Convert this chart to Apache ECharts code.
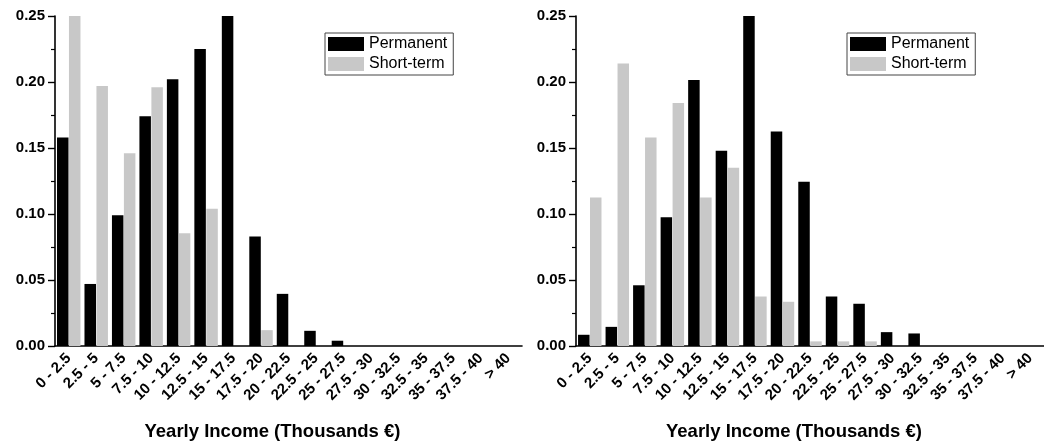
<!DOCTYPE html>
<html>
<head>
<meta charset="utf-8">
<script src="https://cdn.jsdelivr.net/npm/echarts@6/dist/echarts.min.js"></script>
<style>
  html, body { margin: 0; padding: 0; background: #fff; }
  #chart { width: 1044px; height: 447px; }
</style>
</head>
<body>
<div id="chart"></div>
<script>
// income bins (thousands of euro)
let categories = ['0 - 2.5', '2.5 - 5', '5 - 7.5', '7.5 - 10', '10 - 12.5', '12.5 - 15',
  '15 - 17.5', '17.5 - 20', '20 - 22.5', '22.5 - 25', '25 - 27.5', '27.5 - 30',
  '30 - 32.5', '32.5 - 35', '35 - 37.5', '37.5 - 40', '> 40'];

// left panel
let leftPermanent = [0.158, 0.047, 0.099, 0.174, 0.202, 0.225, 0.25, 0.083, 0.0395, 0.0115, 0.004, 0, 0, 0, 0, 0, 0];
let leftShortTerm = [0.25, 0.197, 0.146, 0.196, 0.0855, 0.104, 0, 0.012, 0, 0, 0, 0, 0, 0, 0, 0, 0];

// right panel
let rightPermanent = [0.0085, 0.0145, 0.046, 0.0975, 0.2015, 0.148, 0.25, 0.1625, 0.1245, 0.0375, 0.032, 0.0105, 0.0095, 0, 0, 0, 0];
let rightShortTerm = [0.1125, 0.214, 0.158, 0.184, 0.1125, 0.135, 0.0375, 0.0335, 0.0035, 0.0035, 0.0035, 0, 0, 0, 0, 0, 0];

let yTicks = [0, 0.05, 0.1, 0.15, 0.2, 0.25];
let axisTitle = 'Yearly Income (Thousands €)';

let font = '"Liberation Sans", Arial, sans-serif';
let black = '#000000';
let grey = '#c8c8c8';

let myChart = echarts.init(document.getElementById('chart'));

function xAxisFor(idx){
    return {
        type: 'category',
        gridIndex: idx,
        data: categories,
        boundaryGap: true,
        axisLine: { lineStyle: { color: '#000', width: 1.6 } },
        axisTick: { alignWithLabel: true, length: 5, lineStyle: { color: '#000', width: 1.4 } },
        axisLabel: {
            interval: 0, rotate: 45, margin: 10,
            color: '#000', fontFamily: font, fontWeight: 'bold', fontSize: 15
        },
        name: axisTitle,
        nameLocation: 'middle',
        nameGap: 76,
        nameTextStyle: {
            color: '#000', fontFamily: font, fontWeight: 'bold', fontSize: 18.5,
            padding: [0, 32, 0, 0]
        }
    };
}

function yAxisFor(idx){
    return {
        type: 'value',
        gridIndex: idx,
        min: yTicks[0],
        max: yTicks[yTicks.length - 1],
        interval: 0.05,
        splitLine: { show: false },
        axisLine: { show: true, lineStyle: { color: '#000', width: 1.6 } },
        axisTick: { show: true, length: 7, lineStyle: { color: '#000', width: 1.4 } },
        minorTick: { show: true, splitNumber: 2, length: 4, lineStyle: { color: '#000', width: 1.2 } },
        axisLabel: {
            margin: 10,
            color: '#000', fontFamily: font, fontWeight: 'bold', fontSize: 15,
            formatter: v => v.toFixed(2)
        }
    };
}

function legendFor(left){
    return {
        orient: 'vertical',
        left: left,
        top: 33,
        data: ['Permanent', 'Short-term'],
        itemWidth: 36,
        itemHeight: 14,
        itemGap: 4,
        padding: [3, 6, 3, 3],
        borderColor: '#444',
        borderWidth: 1,
        borderRadius: 0,
        selectedMode: false,
        icon: 'rect',
        textStyle: { color: '#000', fontFamily: font, fontSize: 16, padding: [0, 0, 0, 0] }
    };
}

function barsFor(idx, name, data, color){
    return {
        name: name,
        type: 'bar',
        xAxisIndex: idx,
        yAxisIndex: idx,
        data: data,
        barWidth: 11.5,
        barGap: '4%',
        itemStyle: { color: color },
        emphasis: { disabled: true },
        animation: false
    };
}

let option = {
    animation: false,
    backgroundColor: '#fff',
    grid: [
        { left: 55, top: 16, width: 467, height: 330 },
        { left: 576, top: 16, width: 468, height: 330 }
    ],
    legend: [legendFor(325), legendFor(847)],
    xAxis: [xAxisFor(0), xAxisFor(1)],
    yAxis: [yAxisFor(0), yAxisFor(1)],
    series: [
        barsFor(0, 'Permanent', leftPermanent, black),
        barsFor(0, 'Short-term', leftShortTerm, grey),
        barsFor(1, 'Permanent', rightPermanent, black),
        barsFor(1, 'Short-term', rightShortTerm, grey)
    ]
};

myChart.setOption(option);
</script>
</body>
</html>
